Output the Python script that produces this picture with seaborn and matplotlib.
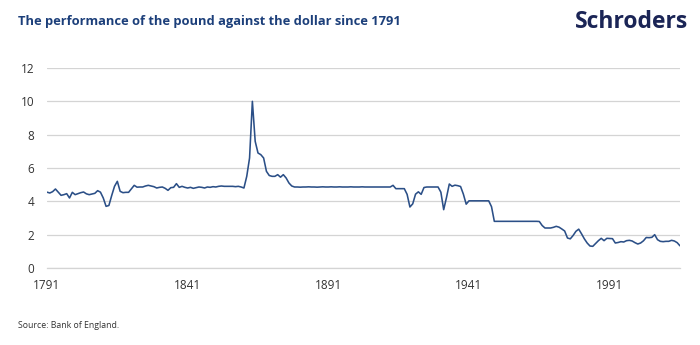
import matplotlib
matplotlib.use("Agg")
import matplotlib.pyplot as plt
import seaborn as sns
import pandas as pd

# Annual GBP/USD exchange rate, 1791-2016 (dollars per pound)
years = list(range(1791, 2017))

rates_1791_1840 = [
    4.55, 4.50, 4.58, 4.74, 4.55, 4.36, 4.40, 4.46, 4.20, 4.54,
    4.40, 4.46, 4.52, 4.56, 4.45, 4.40, 4.44, 4.48, 4.64, 4.55,
    4.20, 3.70, 3.75, 4.35, 4.90, 5.20, 4.60, 4.52, 4.54, 4.54,
    4.75, 4.96, 4.85, 4.86, 4.86, 4.92, 4.96, 4.92, 4.88, 4.80,
    4.84, 4.86, 4.78, 4.66, 4.82, 4.84, 5.06, 4.84, 4.90, 4.84,
]
rates_1841_1890 = [
    4.80, 4.84, 4.78, 4.82, 4.86, 4.84, 4.80, 4.86, 4.84, 4.88,
    4.86, 4.90, 4.92, 4.90, 4.90, 4.90, 4.90, 4.88, 4.90, 4.86,
    4.80, 5.50, 6.60, 10.00, 7.60, 6.90, 6.80, 6.60, 5.80, 5.55,
    5.50, 5.50, 5.60, 5.45, 5.60, 5.40, 5.10, 4.92, 4.86, 4.86,
    4.85, 4.86, 4.86, 4.87, 4.86, 4.86, 4.85, 4.86, 4.87, 4.86,
]
rates_1891_1940 = [
    4.86, 4.87, 4.86, 4.86, 4.87, 4.86, 4.86, 4.86, 4.87, 4.86,
    4.86, 4.86, 4.87, 4.86, 4.86, 4.86, 4.86, 4.86, 4.86, 4.86,
    4.86, 4.86, 4.86, 4.96, 4.76, 4.76, 4.76, 4.76, 4.42, 3.66,
    3.85, 4.43, 4.57, 4.42, 4.83, 4.86, 4.86, 4.86, 4.86, 4.86,
    4.55, 3.50, 4.23, 5.04, 4.90, 4.97, 4.94, 4.89, 4.43, 3.83,
]
rates_1941_1990 = [
    4.03, 4.03, 4.03, 4.03, 4.03, 4.03, 4.03, 4.03, 3.68, 2.80,
    2.80, 2.80, 2.80, 2.80, 2.80, 2.80, 2.80, 2.80, 2.80, 2.80,
    2.80, 2.80, 2.80, 2.80, 2.80, 2.79, 2.55, 2.40, 2.40, 2.40,
    2.44, 2.50, 2.45, 2.34, 2.22, 1.80, 1.75, 1.95, 2.20, 2.33,
    2.05, 1.75, 1.50, 1.32, 1.30, 1.47, 1.64, 1.78, 1.64, 1.78,
]
rates_1991_2016 = [
    1.77, 1.76, 1.50, 1.53, 1.58, 1.56, 1.64, 1.66, 1.62, 1.52,
    1.44, 1.50, 1.63, 1.83, 1.82, 1.84, 2.00, 1.70, 1.60, 1.58,
    1.60, 1.60, 1.66, 1.62, 1.52, 1.33,
]
rates = (rates_1791_1840 + rates_1841_1890 + rates_1891_1940
         + rates_1941_1990 + rates_1991_2016)

year_labels = [1791, 1841, 1891, 1941, 1991]
y_ticks = [0, 2, 4, 6, 8, 10, 12]

df = pd.DataFrame({"year": years, "rate": rates})

sns.set_theme(style="white")
plt.rcParams["font.family"] = ["Open Sans", "DejaVu Sans"]

fig = plt.figure(figsize=(7.0, 3.45), dpi=100)
ax = fig.add_axes([47 / 700, (345 - 268) / 345, 633 / 700, 200 / 345])

sns.lineplot(data=df, x="year", y="rate", ax=ax, color="#2b4f87",
             linewidth=1.15, legend=False)

ax.set_xlim(years[0], years[-1])
ax.set_ylim(0, 12)
ax.set_yticks(y_ticks)
ax.set_xticks(year_labels)
ax.set_xticks(years, minor=True)
ax.set_xlabel("")
ax.set_ylabel("")

ax.grid(axis="y", color="#d4d4d4", linewidth=0.9)
ax.set_axisbelow(True)
for side in ("top", "right", "left"):
    ax.spines[side].set_visible(False)
ax.spines["bottom"].set_color("#d4d4d4")
ax.spines["bottom"].set_linewidth(0.9)

ax.tick_params(axis="y", length=0, pad=9, labelsize=8.5, labelcolor="#333333")
ax.tick_params(axis="x", which="both", length=4, width=0.5, color="#c8c8c8",
               direction="out", pad=4, labelsize=8.5, labelcolor="#333333")

fig.text(18 / 700, 1 - 22 / 345, "The performance of the pound against the dollar since 1791",
         fontsize=9.3, fontweight="bold", color="#1c3f7a", va="center", ha="left")
fig.text(688 / 700, 1 - 22 / 345, "Schroders", fontsize=16.5, fontweight="bold",
         color="#1b2556", va="center", ha="right")
fig.text(18 / 700, 1 - 325 / 345, "Source: Bank of England.", fontsize=6.3,
         color="#333333", va="center", ha="left")

fig.savefig("out.png", dpi=100, facecolor="white")
